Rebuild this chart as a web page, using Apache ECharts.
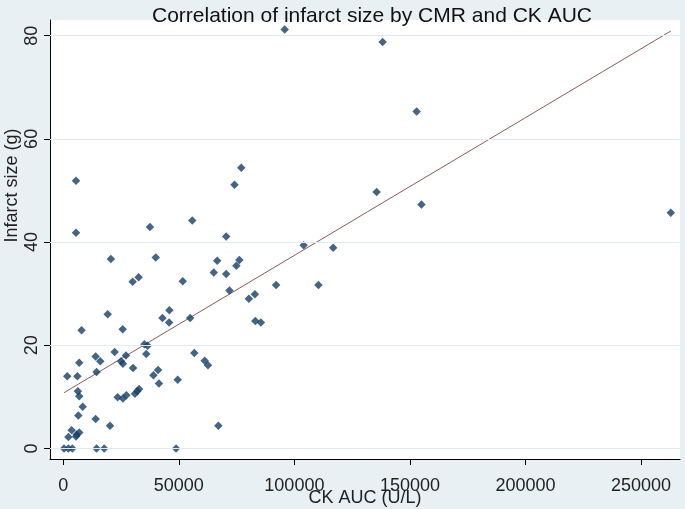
<!DOCTYPE html>
<html>
<head>
<meta charset="utf-8">
<script src="https://cdn.jsdelivr.net/npm/echarts@6/dist/echarts.min.js"></script>
<style>
  html, body { margin: 0; padding: 0; background: #e9f0f3; }
  #chart { width: 685px; height: 509px; }
</style>
</head>
<body>
<div id="chart"></div>
<script>
// CK AUC (U/L)
const ckAuc = [
  95800, 138200, 152900, 77000, 5500, 74100, 135600, 155000, 262900, 55800,
  37500, 5500, 70500, 104000, 116800, 20600, 40000, 66600, 76200, 74900,
  65100, 70500, 32600, 51700, 30000, 92100, 110400, 71900, 82900, 80300,
  45900, 19200, 42900, 54900, 83100, 85500, 45800, 7900, 25700, 35100,
  36500, 22200, 56700, 35900, 27100, 14000, 61200, 16000, 6900, 25000,
  25800, 62600, 30200, 41000, 14400, 39000, 1700, 6100, 49500, 41400,
  6300, 32800, 32000, 31000, 27300, 6900, 23500, 25800, 8400, 6500,
  14000, 20200, 67100, 3600, 6900, 5800, 5500, 2200, 300, 2200,
  3900, 14400, 17700, 48800
];
// Infarct size (g)
const infarctSize = [
  81.2, 78.8, 65.3, 54.4, 51.9, 51.1, 49.7, 47.3, 45.7, 44.2,
  42.9, 41.8, 41.1, 39.4, 38.9, 36.7, 37.0, 36.4, 36.5, 35.4,
  34.1, 33.8, 33.2, 32.4, 32.3, 31.7, 31.7, 30.6, 29.9, 29.0,
  26.8, 26.0, 25.3, 25.3, 24.7, 24.4, 24.4, 22.9, 23.1, 20.2,
  19.9, 18.7, 18.5, 18.3, 18.0, 17.8, 17.0, 16.9, 16.6, 16.9,
  16.4, 16.1, 15.6, 15.2, 14.8, 14.2, 14.0, 14.0, 13.3, 12.6,
  11.1, 11.5, 11.1, 10.6, 10.3, 10.1, 9.9, 9.7, 8.1, 6.4,
  5.7, 4.4, 4.4, 3.5, 3.1, 2.7, 2.3, 2.2, 0, 0,
  0, 0, 0, 0
];
// Fitted line endpoints
const fitX = [300, 262900];
const fitY = [10.8, 80.9];
// Tick labels
const xTicks = [0, 50000, 100000, 150000, 200000, 250000];
const yTicks = [0, 20, 40, 60, 80];

const chart = echarts.init(document.getElementById('chart'), null, { renderer: 'canvas' });
const FONT = '"Liberation Sans", Arial, sans-serif';

const option = {
  backgroundColor: '#e9f0f3',
  animation: false,
  title: {
    text: 'Correlation of infarct size by CMR and CK AUC',
    left: 152,
    top: 6,
    padding: 0,
    textStyle: { fontFamily: FONT, fontSize: 21, fontWeight: 'normal', color: '#111' }
  },
  grid: {
    left: 50, right: 5, top: 20, bottom: 50,
    containLabel: false,
    outerBoundsMode: 'none',
    show: true, backgroundColor: '#ffffff', borderWidth: 0
  },
  xAxis: {
    type: 'value',
    min: -5755, max: 266880,
    name: 'CK AUC (U/L)',
    nameLocation: 'middle',
    nameGap: 30,
    nameMoveOverlap: false,
    nameTextStyle: { fontFamily: FONT, fontSize: 18, color: '#222' },
    axisLine: { show: true, onZero: false, lineStyle: { color: '#000', width: 1 } },
    axisTick: { show: true, customValues: xTicks, length: 6, lineStyle: { color: '#000' } },
    axisLabel: {
      customValues: xTicks, margin: 18, fontFamily: FONT, fontSize: 18, color: '#222',
      formatter: v => String(v)
    },
    splitLine: { show: false }
  },
  yAxis: {
    type: 'value',
    min: -2.05, max: 83.04,
    name: 'Infarct size (g)',
    nameLocation: 'middle',
    nameRotate: 90,
    nameGap: 29,
    nameMoveOverlap: false,
    nameTextStyle: { fontFamily: FONT, fontSize: 18, color: '#222', padding: [0, 0, 0, 108] },
    axisLine: { show: true, onZero: false, lineStyle: { color: '#000', width: 1 } },
    axisTick: { show: true, customValues: yTicks, length: 6, lineStyle: { color: '#000' } },
    axisLabel: {
      customValues: yTicks, rotate: 90, margin: 9, fontFamily: FONT, fontSize: 18, color: '#222',
      formatter: v => String(v)
    },
    splitLine: { show: false }
  },
  series: [
    {
      name: 'grid',
      type: 'line',
      data: [],
      silent: true,
      z: 1,
      markLine: {
        silent: true,
        symbol: ['none', 'none'],
        label: { show: false },
        lineStyle: { color: '#e2ecf0', width: 1, type: 'solid' },
        data: yTicks.map(v => ({ yAxis: v }))
      }
    },
    {
      name: 'Fitted values',
      type: 'line',
      data: fitX.map((x, i) => [x, fitY[i]]),
      symbol: 'none',
      silent: true,
      z: 2,
      lineStyle: { color: '#8c5a5e', width: 1 }
    },
    {
      name: 'Infarct size',
      type: 'scatter',
      data: ckAuc.map((x, i) => [x, infarctSize[i]]),
      symbol: 'diamond',
      symbolSize: 8.5,
      z: 3,
      itemStyle: { color: '#173f63' }
    }
  ]
};
chart.setOption(option);
</script>
</body>
</html>
